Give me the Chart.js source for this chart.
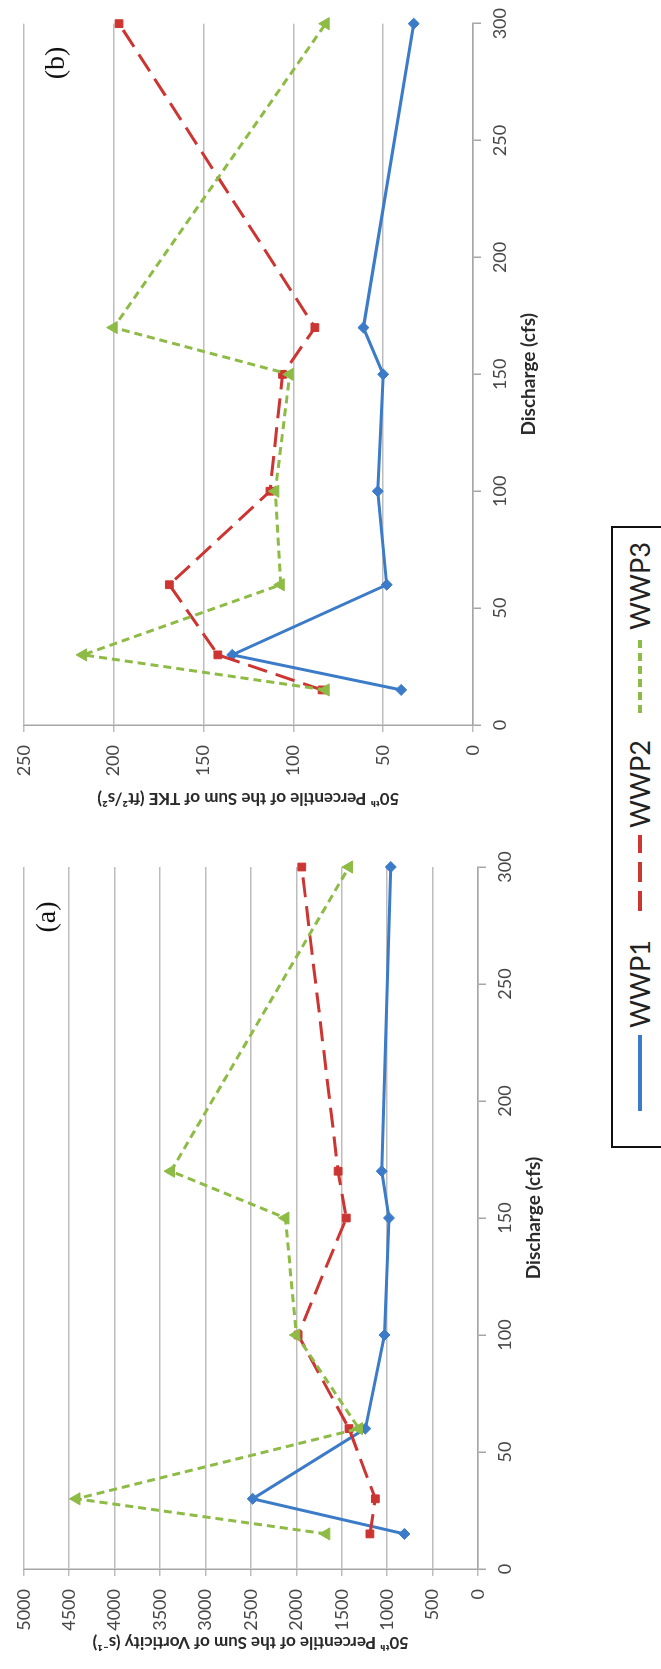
<!DOCTYPE html>
<html>
<head>
<meta charset="utf-8">
<title>Vorticity and TKE vs discharge</title>
<script src="https://cdn.jsdelivr.net/npm/chart.js@4.4.0/dist/chart.umd.min.js"></script>
<style>
  html, body { margin: 0; padding: 0; background: #fff; overflow: hidden; }
  #page { position: relative; width: 661px; height: 1669px; overflow: hidden; }
  /* the whole figure is laid out flat, then turned a quarter turn left */
  #figure {
    position: absolute; left: 0; top: 0; width: 1669px; height: 661px;
    transform-origin: 0 0; transform: translateY(1669px) rotate(-90deg);
  }
  #figure canvas { position: absolute; top: 0; }
  #chartA { left: 0; }
  #chartB { left: 844px; }
  .panel-tag {
    position: absolute; font-family: "Liberation Serif", "DejaVu Serif", serif;
    font-size: 28px; color: #111; transform: translate(-50%, -50%);
  }
  #legend {
    position: absolute; left: 521px; top: 611px; width: 622px; height: 90px;
    border: 2px solid #111; box-sizing: border-box; background: #fff;
  }
  .item { position: absolute; top: 10px; display: flex; align-items: center; }
  .item span { font-family: Lato, "Open Sans", sans-serif; font-size: 27px; color: #222; margin-left: 7px; }
</style>
</head>
<body>
<div id="page">
  <div id="figure">
    <canvas id="chartA" width="830" height="548"></canvas>
    <canvas id="chartB" width="825" height="543"></canvas>
    <div class="panel-tag" style="left:752px; top:46px;">(a)</div>
    <div class="panel-tag" style="left:1606px; top:55px;">(b)</div>
    <div id="legend"></div>
  </div>
</div>
<script>
// discharge (cfs) at which each site was run
const discharge = [15, 30, 60, 100, 150, 170, 300];

// (a) 50th percentile of summed vorticity (1/s)
const vortWWP1 = [810, 2480, 1240, 1030, 980, 1060, 960];
const vortWWP2 = [1190, 1130, 1420, 1980, 1450, 1540, 1940];
const vortWWP3 = [1670, 4420, 1310, 2000, 2120, 3380, 1420];

// (b) 50th percentile of summed TKE (ft2/s2)
const tkeWWP1 = [40, 134, 48, 53, 50, 61, 33];
const tkeWWP2 = [84, 142, 169, 113, 106, 88, 197];
const tkeWWP3 = [82, 217, 107, 110, 102, 200, 82];

const seriesNames = ['WWP1', 'WWP2', 'WWP3'];
const dischargeTicks = [0, 50, 100, 150, 200, 250, 300];

const seriesStyle = [
    { color: '#3b7bc8', dash: [], point: 'rectRot', radius: 5.5, order: 2 },
    { color: '#cc3532', dash: [20, 9], point: 'rect', radius: 5.5, order: 1 },
    { color: '#8dbb45', dash: [8, 5], point: 'triangle', radius: 7, order: 0 }
];

const tickFont = { family: 'Lato, "Open Sans", sans-serif', size: 18 };
const titleFont = { family: 'Lato, "Open Sans", sans-serif', size: 17, weight: 'bold' };

const toPoints = (values) => values.map((v, i) => ({ x: discharge[i], y: v }));

const makeDatasets = (seriesValues) => seriesValues.map((values, i) => {
    const s = seriesStyle[i];
    return {
        label: seriesNames[i],
        data: toPoints(values),
        borderColor: s.color,
        backgroundColor: s.color,
        borderWidth: 3,
        borderDash: s.dash,
        pointStyle: s.point,
        pointRadius: s.radius,
        pointBorderWidth: 1,
        tension: 0,
        fill: false,
        clip: false,
        order: s.order
    };
});

const makePanel = (canvasId, seriesValues, yMax, yStep, yTitle, pad) => {
    const ctx = document.getElementById(canvasId).getContext('2d');
    return new Chart(ctx, {
        type: 'line',
        data: { datasets: makeDatasets(seriesValues) },
        options: {
            responsive: false,
            animation: false,
            devicePixelRatio: 1,
            layout: { padding: pad },
            plugins: { legend: { display: false }, tooltip: { enabled: false } },
            scales: {
                x: {
                    type: 'linear',
                    min: 0,
                    max: 300,
                    afterBuildTicks: (scale) => { scale.ticks = dischargeTicks.map(v => ({ value: v })); },
                    afterFit: (scale) => { scale.height = 70; },
                    grid: { drawOnChartArea: false, drawTicks: true, tickLength: 8, color: '#a6a6a6', lineWidth: 1.5 },
                    border: { display: true, color: '#a6a6a6', width: 1.5 },
                    ticks: { font: tickFont, color: '#474747', padding: 8, maxRotation: 0, callback: (v) => String(v) },
                    title: {
                        display: true,
                        text: 'Discharge (cfs)',
                        font: { family: 'Lato, "Open Sans", sans-serif', size: 19, weight: 'bold' },
                        color: '#2b2b2b',
                        padding: { top: 0, bottom: 3 }
                    }
                },
                y: {
                    type: 'linear',
                    min: 0,
                    max: yMax,
                    // plain numbers, no thousands separator
                    ticks: { stepSize: yStep, font: tickFont, color: '#474747', padding: 13, callback: (v) => String(v) },
                    afterFit: (scale) => { scale.width = 84; },
                    grid: { color: '#bdbdbd', lineWidth: 1.5, tickLength: 7 },
                    border: { display: true, color: '#a6a6a6', width: 1.5 },
                    title: { display: true, text: yTitle, font: titleFont, color: '#2b2b2b', padding: 0 }
                }
            }
        }
    });
};

makePanel('chartA', [vortWWP1, vortWWP2, vortWWP3], 5000, 500,
    '50ᵗʰ Percentile of the Sum of Vorticity (s⁻¹)', { left: 16, top: 19, right: 28, bottom: 0 });
makePanel('chartB', [tkeWWP1, tkeWWP2, tkeWWP3], 250, 50,
    '50ᵗʰ Percentile of the Sum of TKE (ft²/s²)', { left: 16, top: 20, right: 20, bottom: 0 });

// shared legend under both panels (before the figure is turned)
const legend = document.getElementById('legend');
const itemLeft = [35, 235, 433];
seriesNames.forEach((name, i) => {
    const s = seriesStyle[i];
    const item = document.createElement('div');
    item.className = 'item';
    item.style.left = itemLeft[i] + 'px';
    item.innerHTML =
        `<svg width="76" height="30"><line x1="0" y1="15" x2="76" y2="15" stroke="${s.color}" ` +
        `stroke-width="4" stroke-dasharray="${s.dash.length ? s.dash.join(' ') : 'none'}"/></svg>` +
        `<span>${name}</span>`;
    legend.appendChild(item);
});
</script>
</body>
</html>
